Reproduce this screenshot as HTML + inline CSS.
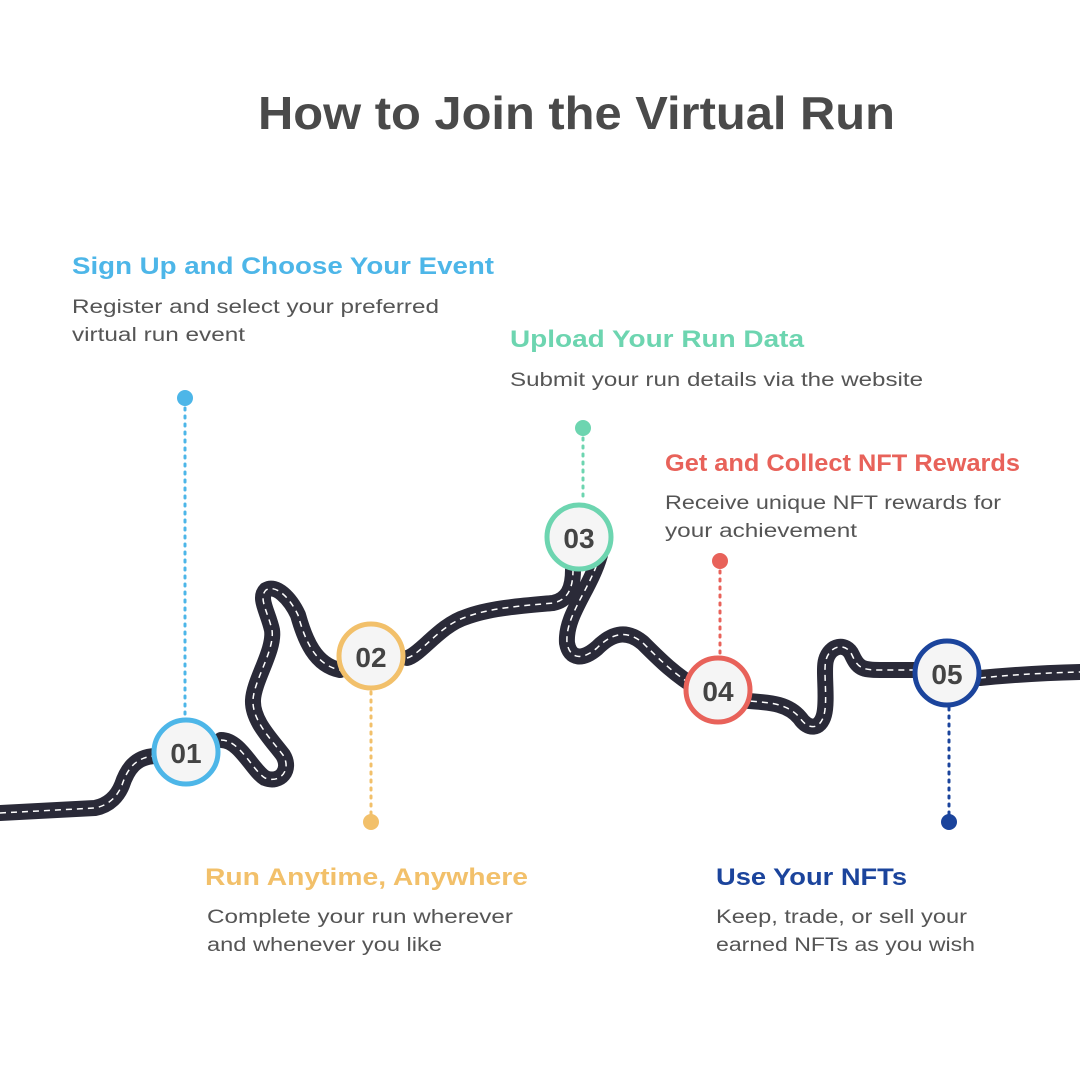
<!DOCTYPE html>
<html><head><style>html,body{margin:0;padding:0;background:#fff}svg{display:block}</style></head>
<body>
<svg width="1080" height="1080" viewBox="0 0 1080 1080" xmlns="http://www.w3.org/2000/svg" font-family="Liberation Sans, sans-serif">
<rect width="1080" height="1080" fill="#fff"/>
<text x="258" y="129" font-size="46" font-weight="bold" fill="#4a4a4a" textLength="637" lengthAdjust="spacingAndGlyphs">How to Join the Virtual Run</text>

<g fill="none" stroke-linecap="round" stroke-linejoin="round">
<path d="M0,813 L95,808 C110,805 118,795 122,785 C127,770 135,757 155,756 L186,753 M221,740 C240,740 252,770 265,778 C280,784 292,770 283,755 C270,738 252,720 253,700 C254,680 275,650 272,630 C268,612 258,598 266,590 C276,584 290,598 298,615 C305,640 315,665 340,670 L372,656 M407,658 C420,655 440,625 466,617 C490,608 520,606 553,603 C568,600 573,588 573,570 M600,555 C590,590 565,615 567,643 C570,660 583,660 597,648 C610,635 625,628 643,643 C660,660 675,675 700,690 M740,700 C760,703 785,700 800,718 C808,730 820,730 824,715 C828,700 823,670 826,660 C830,645 846,642 852,655 C858,668 862,670 880,670 L915,670 M980,678 C1010,675 1040,673 1080,672" stroke="#2a2a38" stroke-width="16"/>
<path d="M0,813 L95,808 C110,805 118,795 122,785 C127,770 135,757 155,756 L186,753 M221,740 C240,740 252,770 265,778 C280,784 292,770 283,755 C270,738 252,720 253,700 C254,680 275,650 272,630 C268,612 258,598 266,590 C276,584 290,598 298,615 C305,640 315,665 340,670 L372,656 M407,658 C420,655 440,625 466,617 C490,608 520,606 553,603 C568,600 573,588 573,570 M600,555 C590,590 565,615 567,643 C570,660 583,660 597,648 C610,635 625,628 643,643 C660,660 675,675 700,690 M740,700 C760,703 785,700 800,718 C808,730 820,730 824,715 C828,700 823,670 826,660 C830,645 846,642 852,655 C858,668 862,670 880,670 L915,670 M980,678 C1010,675 1040,673 1080,672" stroke="#fff" stroke-width="1.5" stroke-dasharray="6 5" stroke-linecap="butt"/>
</g>

<g stroke-width="3" stroke-dasharray="2 6" stroke-linecap="round" fill="none">
<line x1="185" y1="400" x2="185" y2="718" stroke="#4db6e8"/>
<line x1="371" y1="692" x2="371" y2="820" stroke="#f2c06a"/>
<line x1="583" y1="430" x2="583" y2="502" stroke="#6dd5b0"/>
<line x1="720" y1="563" x2="720" y2="656" stroke="#e8625a"/>
<line x1="949" y1="708" x2="949" y2="820" stroke="#1b449c"/>
</g>
<circle cx="185" cy="398" r="8" fill="#4db6e8"/>
<circle cx="371" cy="822" r="8" fill="#f2c06a"/>
<circle cx="583" cy="428" r="8" fill="#6dd5b0"/>
<circle cx="720" cy="561" r="8" fill="#e8625a"/>
<circle cx="949" cy="822" r="8" fill="#1b449c"/>

<g fill="#f5f5f5" stroke-width="5">
<circle cx="186" cy="752" r="32" stroke="#4db6e8"/>
<circle cx="371" cy="656" r="32" stroke="#f2c06a"/>
<circle cx="579" cy="537" r="32" stroke="#6dd5b0"/>
<circle cx="718" cy="690" r="32" stroke="#e8625a"/>
<circle cx="947" cy="673" r="32" stroke="#1b449c"/>
</g>
<g font-size="28" font-weight="bold" fill="#444" text-anchor="middle">
<text x="186" y="763">01</text>
<text x="371" y="667">02</text>
<text x="579" y="548">03</text>
<text x="718" y="701">04</text>
<text x="947" y="684">05</text>
</g>

<g font-size="24" font-weight="bold">
<text x="72" y="274" fill="#4db6e8" textLength="422" lengthAdjust="spacingAndGlyphs">Sign Up and Choose Your Event</text>
<text x="510" y="347" fill="#6dd5b0" textLength="294" lengthAdjust="spacingAndGlyphs">Upload Your Run Data</text>
<text x="665" y="471" fill="#e8625a" textLength="355" lengthAdjust="spacingAndGlyphs">Get and Collect NFT Rewards</text>
<text x="205" y="885" fill="#f2c06a" textLength="323" lengthAdjust="spacingAndGlyphs">Run Anytime, Anywhere</text>
<text x="716" y="885" fill="#1b449c" textLength="191" lengthAdjust="spacingAndGlyphs">Use Your NFTs</text>
</g>
<g font-size="19" fill="#555">
<text x="72" y="313" textLength="367" lengthAdjust="spacingAndGlyphs">Register and select your preferred</text>
<text x="72" y="341" textLength="173" lengthAdjust="spacingAndGlyphs">virtual run event</text>
<text x="510" y="386" textLength="413" lengthAdjust="spacingAndGlyphs">Submit your run details via the website</text>
<text x="665" y="509" textLength="336" lengthAdjust="spacingAndGlyphs">Receive unique NFT rewards for</text>
<text x="665" y="537" textLength="192" lengthAdjust="spacingAndGlyphs">your achievement</text>
<text x="207" y="923" textLength="306" lengthAdjust="spacingAndGlyphs">Complete your run wherever</text>
<text x="207" y="951" textLength="235" lengthAdjust="spacingAndGlyphs">and whenever you like</text>
<text x="716" y="923" textLength="251" lengthAdjust="spacingAndGlyphs">Keep, trade, or sell your</text>
<text x="716" y="951" textLength="259" lengthAdjust="spacingAndGlyphs">earned NFTs as you wish</text>
</g>
</svg>
</body></html>
